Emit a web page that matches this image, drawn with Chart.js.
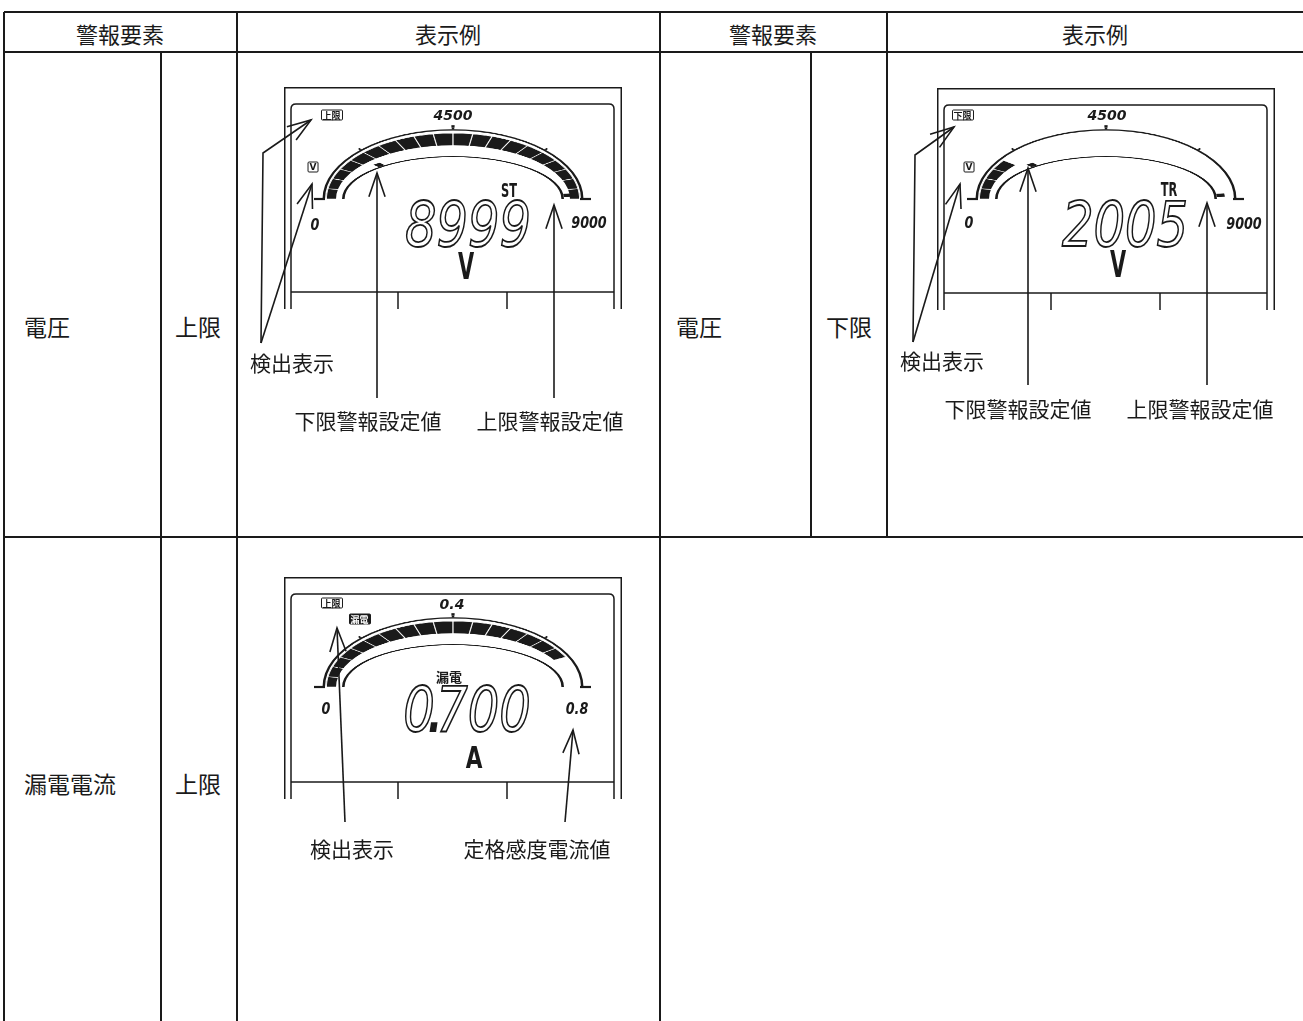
<!DOCTYPE html>
<html lang="ja">
<head>
<meta charset="utf-8">
<script src="https://cdn.jsdelivr.net/npm/chart.js@4.4.0/dist/chart.umd.min.js"></script>
<style>
  body { margin: 0; background: #fff; }
  #page { position: relative; width: 1303px; height: 1021px; overflow: hidden; background: #fff;
          font-family: "Noto Sans CJK JP", sans-serif; color: #1a1a1a; }
  .t { position: absolute; white-space: nowrap; line-height: 1; }
  .cap { font-size: 21px; }
  .head { font-size: 22px; }
  .row { font-size: 23px; }
  .meter { position: absolute; width: 338px; height: 222px; }
  .meter canvas { position: absolute; transform-origin: 50% 100%; }
  .meter svg, #overlay { position: absolute; left: 0; top: 0; overflow: visible; }
  .big { font-family: "DejaVu Sans", sans-serif; font-style: oblique; font-size: 62px; line-height: 0.75;
         color: transparent; -webkit-text-stroke: 1.8px #1a1a1a; }
  .big .dp { color: #1a1a1a; margin: 0 -9px; }
  .seg { font-family: "DejaVu Sans", sans-serif; font-style: oblique; font-weight: bold; line-height: 0.75; }
  .unit { font-family: "DejaVu Sans", sans-serif; font-weight: bold; line-height: 0.75; }
  .icon { font-size: 9px; font-weight: bold; border: 1.5px solid #1a1a1a; border-radius: 1.5px; padding: 0 1px; }
  .icon.inv { background: #1a1a1a; color: #fff; }
  .icon.unit { line-height: 1; font-size: 9px; padding: 0 1px; }
</style>
</head>
<body>
<div id="page"></div>
<script>
// ---- values ----
const headerLabels = ['警報要素', '表示例', '警報要素', '表示例'];
const alarmElements = ['電圧', '電圧', '漏電電流'];
const alarmLimits = ['上限', '下限', '上限'];
const readings = [8999, 2005, 0.7];
const readingLabels = ['8999', '2005', '0.700'];
const units = ['V', 'V', 'A'];
const unitIcons = ['V', 'V', null];
const modeLabels = ['ST', 'TR', '漏電'];
const scaleMax = [9000, 9000, 0.8];
const scaleTickLabels = [['0', '4500', '9000'], ['0', '4500', '9000'], ['0', '0.4', '0.8']];
const majorTicks = [[4500], [4500], [0.4]];
const minorTicks = [[2250, 6750], [2250, 6750], [0.2, 0.6]];
const lowerSetValues = [2500, 2500, null];
const upperSetValues = [8750, 8750, null];
const statusIcons = [['上限'], ['下限'], ['上限', '漏電']];
const calloutLabels = [
  ['検出表示', '下限警報設定値', '上限警報設定値'],
  ['検出表示', '下限警報設定値', '上限警報設定値'],
  ['検出表示', '定格感度電流値']
];
const SEGMENTS = 20;

// ---- layout ----
const INK = '#1a1a1a';
const CLEAR = 'rgba(0,0,0,0)';
const page = document.getElementById('page');
const svgNS = 'http://www.w3.org/2000/svg';

const meterLayout = [
  { x: 284, y: 87, cy: 112, minAt: [31, 139], midAt: [169, 28], maxAt: [305, 137], modeAt: [225, 103],
    valueAt: [183.5, 137.5], unitAt: [181.5, 179], iconAt: [[47.5, 28]], unitIconAt: [29, 80] },
  { x: 937, y: 88, cy: 111, minAt: [31.5, 136], midAt: [170, 27], maxAt: [307, 136.5], modeAt: [232, 101],
    valueAt: [188, 136.5], unitAt: [180.5, 176], iconAt: [[25.5, 27]], unitIconAt: [32, 78.5] },
  { x: 284, y: 577, cy: 110, minAt: [42, 133], midAt: [168, 27], maxAt: [293, 133], modeAt: [165, 99],
    valueAt: [182.5, 133], unitAt: [189.5, 180.5], iconAt: [[47.5, 25.5], [75.5, 41.5]], unitIconAt: null }
];
const CX = 168.5;

function addText(parent, str, x, y, cls, tf, left) {
  const el = document.createElement('div');
  el.className = 't ' + (cls || '');
  el.textContent = str;
  el.style.left = x + 'px';
  el.style.top = y + 'px';
  el.style.transform = (left ? 'translate(0,-50%)' : 'translate(-50%,-50%)') + (tf || '');
  parent.appendChild(el);
  return el;
}

function makeSvg(parent, w, h, id) {
  const s = document.createElementNS(svgNS, 'svg');
  s.setAttribute('width', w);
  s.setAttribute('height', h);
  if (id) s.id = id;
  parent.appendChild(s);
  return s;
}

function poly(svg, pts, w) {
  const p = document.createElementNS(svgNS, 'polyline');
  p.setAttribute('points', pts.map(q => q.join(',')).join(' '));
  p.setAttribute('fill', 'none');
  p.setAttribute('stroke', INK);
  p.setAttribute('stroke-width', w || 1.6);
  svg.appendChild(p);
}

// leader line through the given points, open arrow head at the last one
function arrow(svg, pts) {
  poly(svg, pts);
  const tip = pts[pts.length - 1], from = pts[pts.length - 2];
  const a = Math.atan2(from[1] - tip[1], from[0] - tip[0]);
  const L = 25, s = 0.33;
  poly(svg, [[tip[0] + L * Math.cos(a + s), tip[1] + L * Math.sin(a + s)], tip,
             [tip[0] + L * Math.cos(a - s), tip[1] + L * Math.sin(a - s)]]);
}

// slices for a ring that is empty except for short marks at the given values
function markSlices(marks, width, max) {
  const data = [], colors = [];
  let pos = 0;
  marks.forEach(m => {
    data.push(m - width / 2 - pos); colors.push(CLEAR);
    data.push(width); colors.push(INK);
    pos = m + width / 2;
  });
  data.push(max - pos); colors.push(CLEAR);
  return { data, backgroundColor: colors };
}

// one half doughnut, squashed vertically so the arc becomes the flat LCD curve
function halfRing(parent, cy, R, k, cutout, datasets) {
  const c = document.createElement('canvas');
  c.width = 2 * R;
  c.height = R;
  c.style.left = (CX - R) + 'px';
  c.style.top = (cy - R) + 'px';
  c.style.transform = 'scaleY(' + k + ')';
  parent.appendChild(c);
  new Chart(c, {
    type: 'doughnut',
    data: { datasets },
    options: {
      responsive: false,
      animation: false,
      events: [],
      rotation: -90,
      circumference: 180,
      cutout: (cutout / R * 100) + '%',
      layout: { padding: 0 },
      plugins: { legend: { display: false }, tooltip: { enabled: false } }
    }
  });
}

// ---- table ----
function buildTable(svg) {
  [[12, 4, 1303], [52, 4, 1303], [537, 4, 1303]].forEach(h => poly(svg, [[h[1], h[0]], [h[2], h[0]]], 2));
  [[4, 12, 1021], [161, 52, 1021], [237, 12, 1021], [660, 12, 1021], [811, 52, 537], [887, 12, 537]]
    .forEach(v => poly(svg, [[v[0], v[1]], [v[0], v[2]]], 2));
}

[120, 448, 773, 1095].forEach((x, i) => addText(page, headerLabels[i], x, 33, 'head'));
const rowAt = [[24, 175, 326], [676, 826, 326], [24, 175, 783]];
alarmElements.forEach((name, i) => {
  addText(page, name, rowAt[i][0], rowAt[i][2], 'row', '', true);
  addText(page, alarmLimits[i], rowAt[i][1], rowAt[i][2], 'row', '', true);
});

// ---- meters ----
const isCjk = s => /[^\x00-\x7f]/.test(s);
meterLayout.forEach((L, i) => {
  const m = document.createElement('div');
  m.className = 'meter';
  m.style.left = L.x + 'px';
  m.style.top = L.y + 'px';
  page.appendChild(m);
  const max = scaleMax[i];
  const cy = L.cy;

  // outer scale line with its tick marks
  const tickW = max * 0.0075;
  halfRing(m, cy, 138, 0.535, 128, [
    Object.assign(markSlices(majorTicks[i], tickW, max), { weight: 4.5, borderWidth: 0 }),
    Object.assign(markSlices(minorTicks[i].concat(majorTicks[i]).sort((a, b) => a - b), tickW * 0.8, max), { weight: 3, borderWidth: 0 }),
    { data: [max], backgroundColor: [INK], weight: 2.5, borderWidth: 0 }
  ]);

  // segmented bar graph
  const lit = Math.round(readings[i] / max * SEGMENTS);
  halfRing(m, cy, 127, 0.52, 0, [{
    data: Array.from({ length: SEGMENTS }, () => max / SEGMENTS),
    backgroundColor: Array.from({ length: SEGMENTS }, (_, j) => j < lit ? INK : '#fff'),
    borderColor: '#fff', borderWidth: 0.6, borderAlign: 'inner'
  }]);
  // inner edge of the bar
  halfRing(m, cy, 117, 0.46, 0, [{ data: [max], backgroundColor: ['#fff'], borderWidth: 0 }]);

  // inner arc with alarm set-point marks
  const sets = [lowerSetValues[i], upperSetValues[i]].filter(v => v !== null);
  halfRing(m, cy, 119, 0.387, 108.4, [
    Object.assign(markSlices(sets, max * 0.022, max), { weight: 8, borderWidth: 0 }),
    { data: [max], backgroundColor: [INK], weight: 2.6, borderWidth: 0 }
  ]);

  // LCD frame
  const f = makeSvg(m, 338, 222);
  poly(f, [[0.75, 222], [0.75, 0.75], [337.25, 0.75], [337.25, 222]], 1.5);
  const inner = document.createElementNS(svgNS, 'path');
  inner.setAttribute('d', 'M7,222 V22 Q7,17 12,17 H325 Q330,17 330,22 V222');
  inner.setAttribute('fill', 'none');
  inner.setAttribute('stroke', INK);
  inner.setAttribute('stroke-width', 1.5);
  f.appendChild(inner);
  poly(f, [[7, 205], [330, 205]], 1.5);
  poly(f, [[114, 205], [114, 222]], 1.5);
  poly(f, [[223, 205], [223, 222]], 1.5);
  poly(f, [[30, cy], [41, cy]], 2.2);
  poly(f, [[296, cy], [307, cy]], 2.2);

  // texts inside the display
  const tl = scaleTickLabels[i];
  addText(m, tl[0], L.minAt[0], L.minAt[1], 'seg', ' scaleX(0.85)').style.fontSize = '15px';
  addText(m, tl[1], L.midAt[0], L.midAt[1], 'seg').style.fontSize = '14px';
  addText(m, tl[2], L.maxAt[0], L.maxAt[1], 'seg', ' scaleX(0.85)').style.fontSize = '15px';
  const cjkMode = isCjk(modeLabels[i]);
  const mode = addText(m, modeLabels[i], L.modeAt[0], L.modeAt[1], cjkMode ? '' : 'unit', cjkMode ? '' : ' scaleX(0.6)');
  mode.style.fontSize = cjkMode ? '13px' : '19px';
  mode.style.fontWeight = 'bold';

  const big = addText(m, '', L.valueAt[0], L.valueAt[1], 'big', ' scaleX(0.8)');
  const parts = readingLabels[i].split('.');
  big.appendChild(document.createTextNode(parts[0]));
  if (parts.length > 1) {
    const dp = document.createElement('span');
    dp.className = 'dp';
    dp.textContent = '.';
    big.appendChild(dp);
    big.appendChild(document.createTextNode(parts[1]));
  }
  const u = addText(m, units[i], L.unitAt[0], L.unitAt[1], 'unit', units[i] === 'V' ? ' scaleX(0.55)' : ' scaleX(0.72)');
  u.style.fontSize = units[i] === 'V' ? '38px' : '30px';

  statusIcons[i].forEach((s, j) => {
    addText(m, s, L.iconAt[j][0], L.iconAt[j][1], 'icon' + (j > 0 ? ' inv' : ''));
  });
  if (unitIcons[i]) addText(m, unitIcons[i], L.unitIconAt[0], L.unitIconAt[1], 'icon unit');
});

// ---- grid and callouts on top ----
const ov = makeSvg(page, 1303, 1021, 'overlay');
buildTable(ov);

// panel 1
arrow(ov, [[261, 343], [312, 184]]);
arrow(ov, [[261, 343], [263, 153], [311, 120]]);
arrow(ov, [[377, 398], [377, 173]]);
arrow(ov, [[554, 398], [554, 205]]);
// panel 2
arrow(ov, [[913, 342], [960, 184]]);
arrow(ov, [[913, 342], [915, 155], [954, 127]]);
arrow(ov, [[1028, 385], [1028, 168]]);
arrow(ov, [[1207, 385], [1207, 203]]);
// panel 3
arrow(ov, [[345, 822], [337, 628]]);
arrow(ov, [[565, 822], [573, 730]]);

const calloutAt = [
  [[292, 362], [368, 420], [550, 420]],
  [[942, 360], [1018, 408], [1200, 408]],
  [[352, 848], [537, 848]]
];
calloutLabels.forEach((labels, i) => labels.forEach((s, j) =>
  addText(page, s, calloutAt[i][j][0], calloutAt[i][j][1], 'cap')));
</script>
</body>
</html>
